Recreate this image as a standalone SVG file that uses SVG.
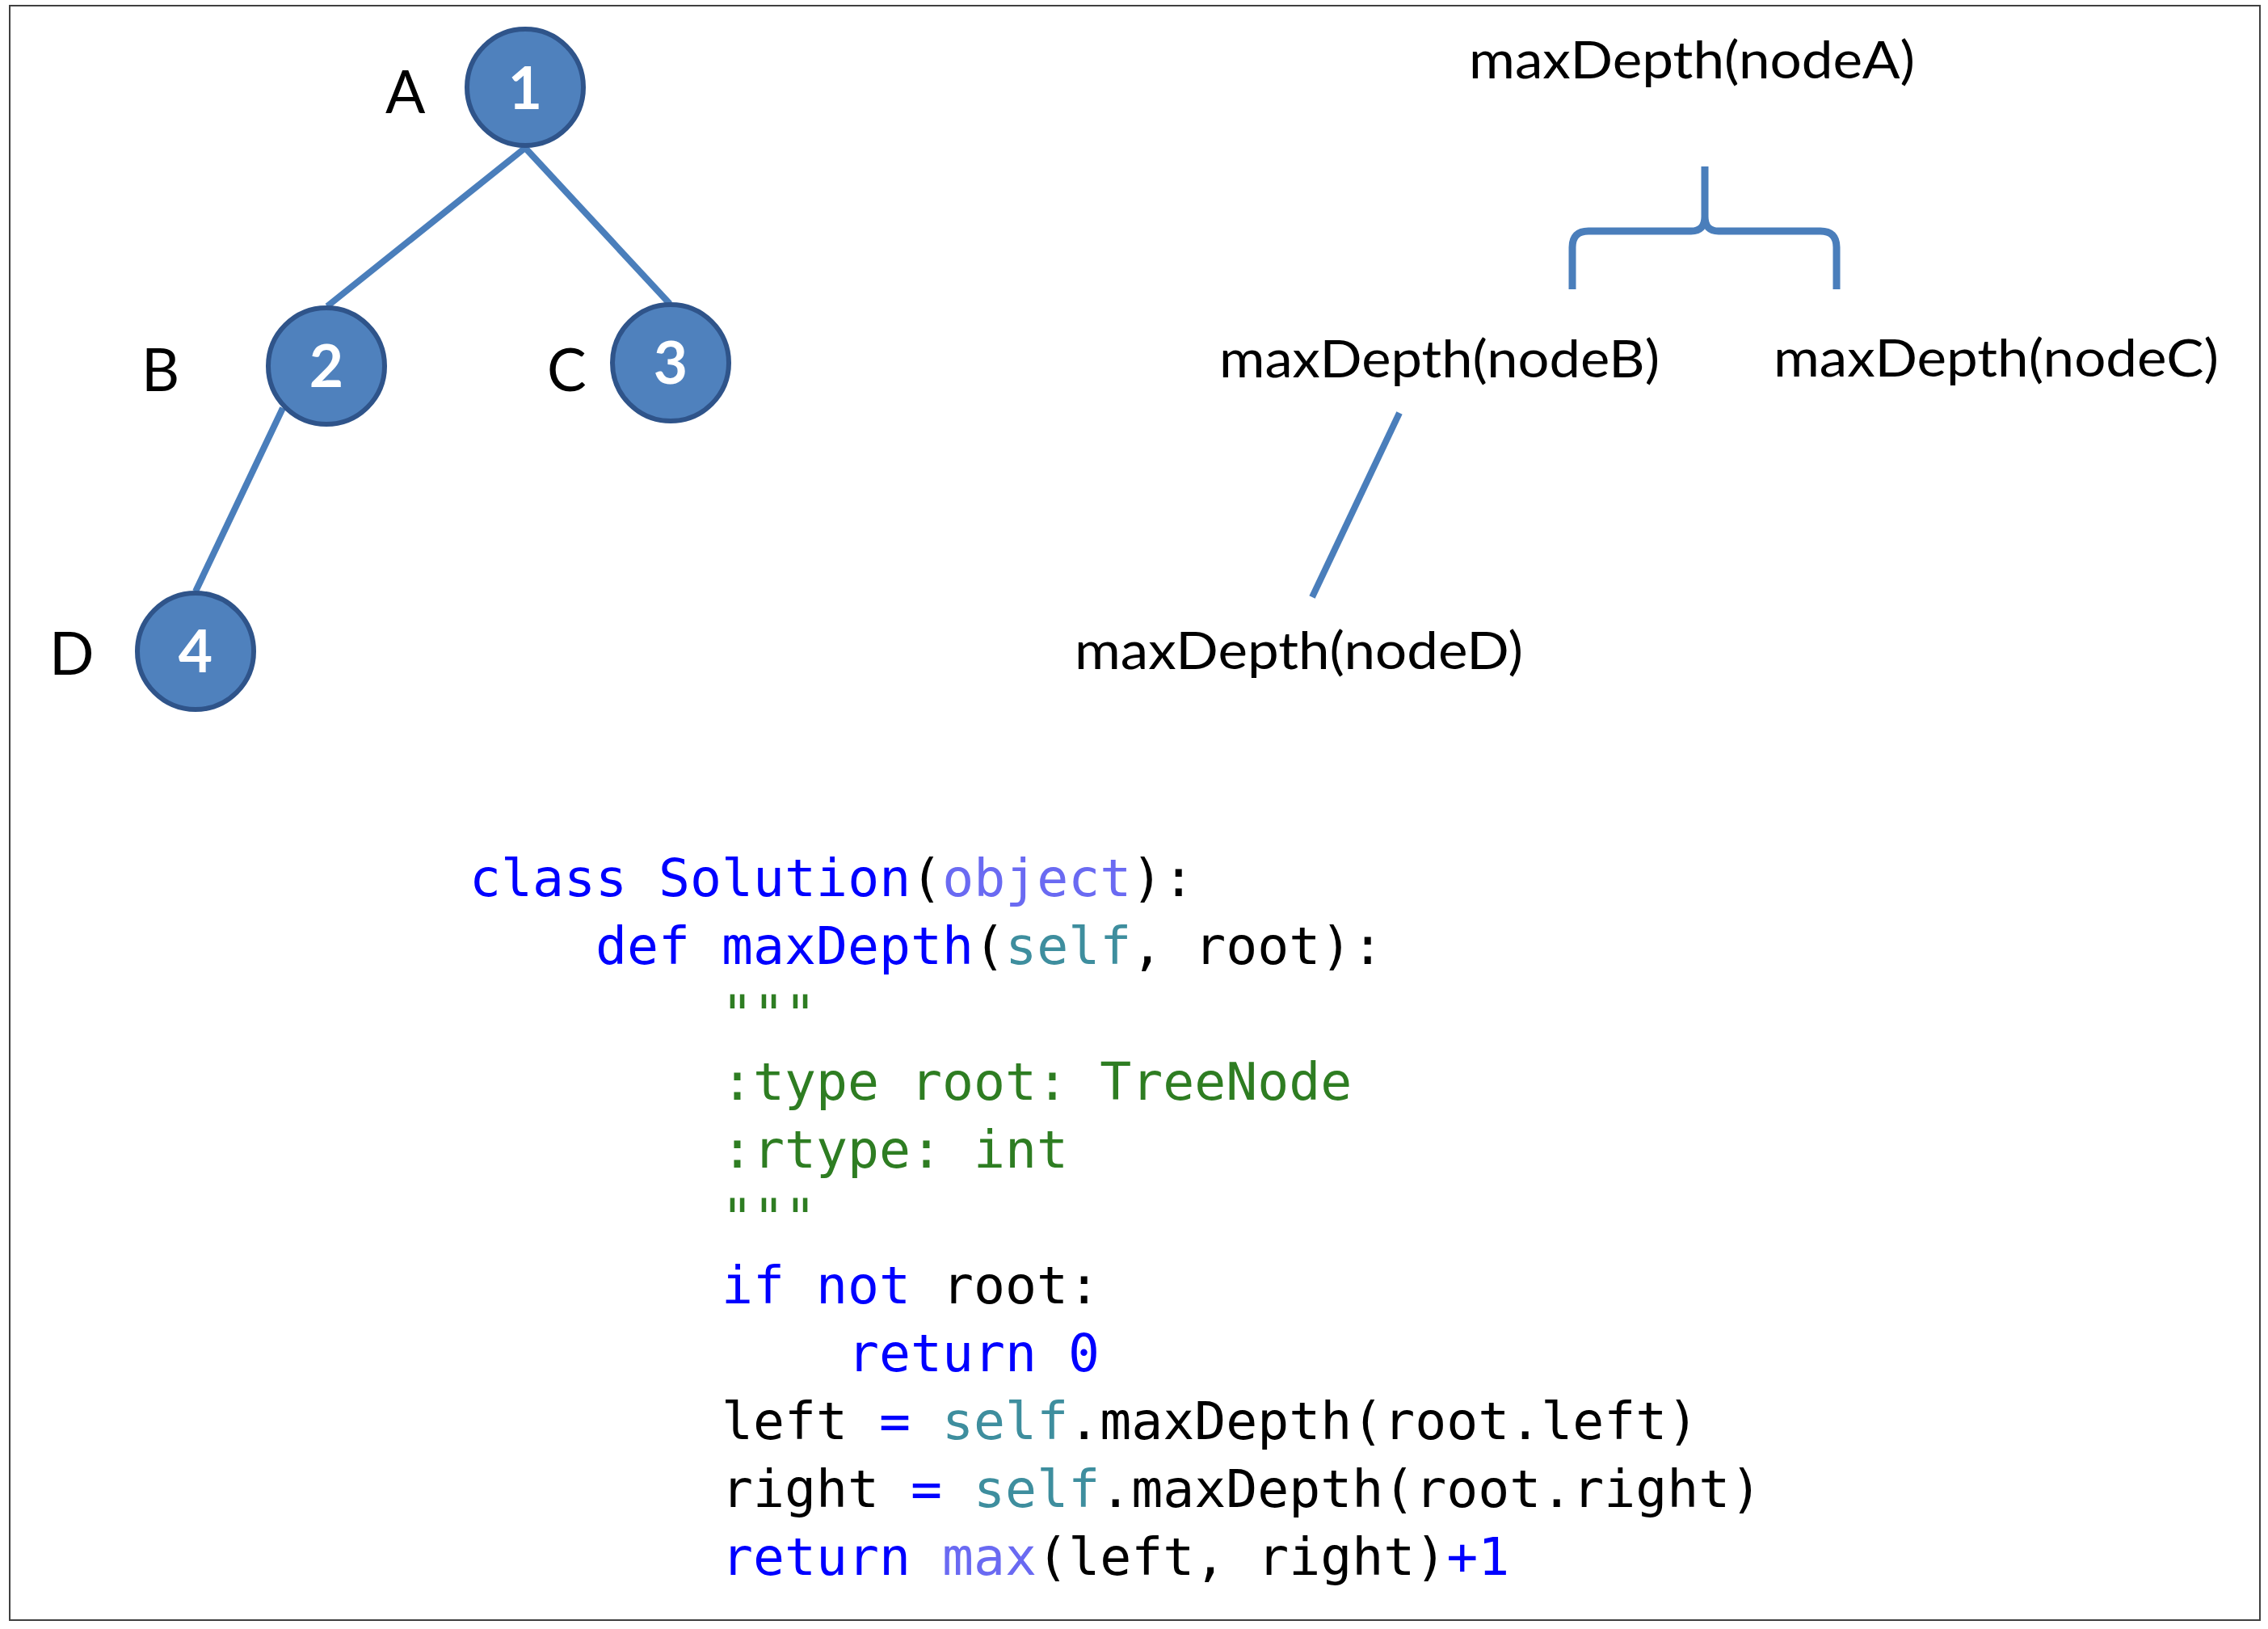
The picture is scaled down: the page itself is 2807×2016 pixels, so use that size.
<svg xmlns="http://www.w3.org/2000/svg" width="2807" height="2016" viewBox="0 0 2807 2016">
<style>
.edge{stroke:#4a7ebb;stroke-width:8;fill:none;stroke-linecap:butt}
.brace{stroke:#4a7ebb;stroke-width:9;fill:none;stroke-linejoin:round}
.circ{fill:#4f81bd;stroke:#2f548a;stroke-width:6}
.num{font-family:Lato,"Open Sans",sans-serif;font-weight:bold;font-size:73px;fill:#ffffff;text-anchor:middle}
.lbl{font-family:Lato,"Open Sans",sans-serif;font-size:73px;fill:#000}
.call{font-family:Lato,"Open Sans",sans-serif;font-size:63px;fill:#000}
.code{font-family:"DejaVu Sans Mono","Liberation Mono",monospace;font-size:64.8px;fill:#000;white-space:pre}
.kw{fill:#0000ff}
.bi{fill:#6a6af2}
.sf{fill:#3e8e9e}
.doc{fill:#2e7d22}
</style>
<rect x="12" y="7" width="2785" height="1998" fill="#ffffff" stroke="#404040" stroke-width="2"/>

<g id="connectors">
  <line class="edge" x1="650" y1="183" x2="405" y2="379"/>
  <line class="edge" x1="650" y1="183" x2="829" y2="376"/>
  <line class="edge" x1="350" y1="505" x2="242" y2="732"/>
  <path class="brace" d="M1946,358 V306 Q1946,286 1966,286 H2093 Q2110,286 2110,268 V206 M2110,268 Q2110,286 2127,286 H2253 Q2273,286 2273,306 V358"/>
  <line class="edge" x1="1732" y1="511" x2="1624" y2="739"/>
</g>

<g id="node1">
  <circle class="circ" cx="650" cy="108" r="72"/>
  <text class="num" x="650" y="135">1</text>
  <text class="lbl" x="477" y="140">A</text>
</g>
<g id="node2">
  <circle class="circ" cx="404" cy="453" r="72"/>
  <text class="num" x="404" y="479">2</text>
  <text class="lbl" x="175" y="484">B</text>
</g>
<g id="node3">
  <circle class="circ" cx="830" cy="449" r="72"/>
  <text class="num" x="830" y="475">3</text>
  <text class="lbl" x="677" y="484">C</text>
</g>
<g id="node4">
  <circle class="circ" cx="242" cy="806" r="72"/>
  <text class="num" x="242" y="832">4</text>
  <text class="lbl" x="61" y="835">D</text>
</g>

<g id="callA"><text class="call" x="1818" y="97" textLength="552" lengthAdjust="spacingAndGlyphs">maxDepth(nodeA)</text></g>
<g id="callB"><text class="call" x="1509" y="467" textLength="545" lengthAdjust="spacingAndGlyphs">maxDepth(nodeB)</text></g>
<g id="callC"><text class="call" x="2195" y="466" textLength="551" lengthAdjust="spacingAndGlyphs">maxDepth(nodeC)</text></g>
<g id="callD"><text class="call" x="1330" y="828" textLength="555" lengthAdjust="spacingAndGlyphs">maxDepth(nodeD)</text></g>

<g id="code">
  <text class="code" x="581" y="1109" xml:space="preserve"><tspan class="kw">class Solution</tspan>(<tspan class="bi">object</tspan>):</text>
  <text class="code" x="737" y="1193" xml:space="preserve"><tspan class="kw">def maxDepth</tspan>(<tspan class="sf">self</tspan>, root):</text>
  <text class="code doc" x="893" y="1277" xml:space="preserve">"""</text>
  <text class="code doc" x="893" y="1361" xml:space="preserve">:type root: TreeNode</text>
  <text class="code doc" x="893" y="1445" xml:space="preserve">:rtype: int</text>
  <text class="code doc" x="893" y="1529" xml:space="preserve">"""</text>
  <text class="code" x="893" y="1613" xml:space="preserve"><tspan class="kw">if not</tspan> root:</text>
  <text class="code kw" x="1049" y="1697" xml:space="preserve">return 0</text>
  <text class="code" x="893" y="1781" xml:space="preserve">left <tspan class="kw">=</tspan> <tspan class="sf">self</tspan>.maxDepth(root.left)</text>
  <text class="code" x="893" y="1865" xml:space="preserve">right <tspan class="kw">=</tspan> <tspan class="sf">self</tspan>.maxDepth(root.right)</text>
  <text class="code" x="893" y="1949" xml:space="preserve"><tspan class="kw">return</tspan> <tspan class="bi">max</tspan>(left, right)<tspan class="kw">+1</tspan></text>
</g>
</svg>
